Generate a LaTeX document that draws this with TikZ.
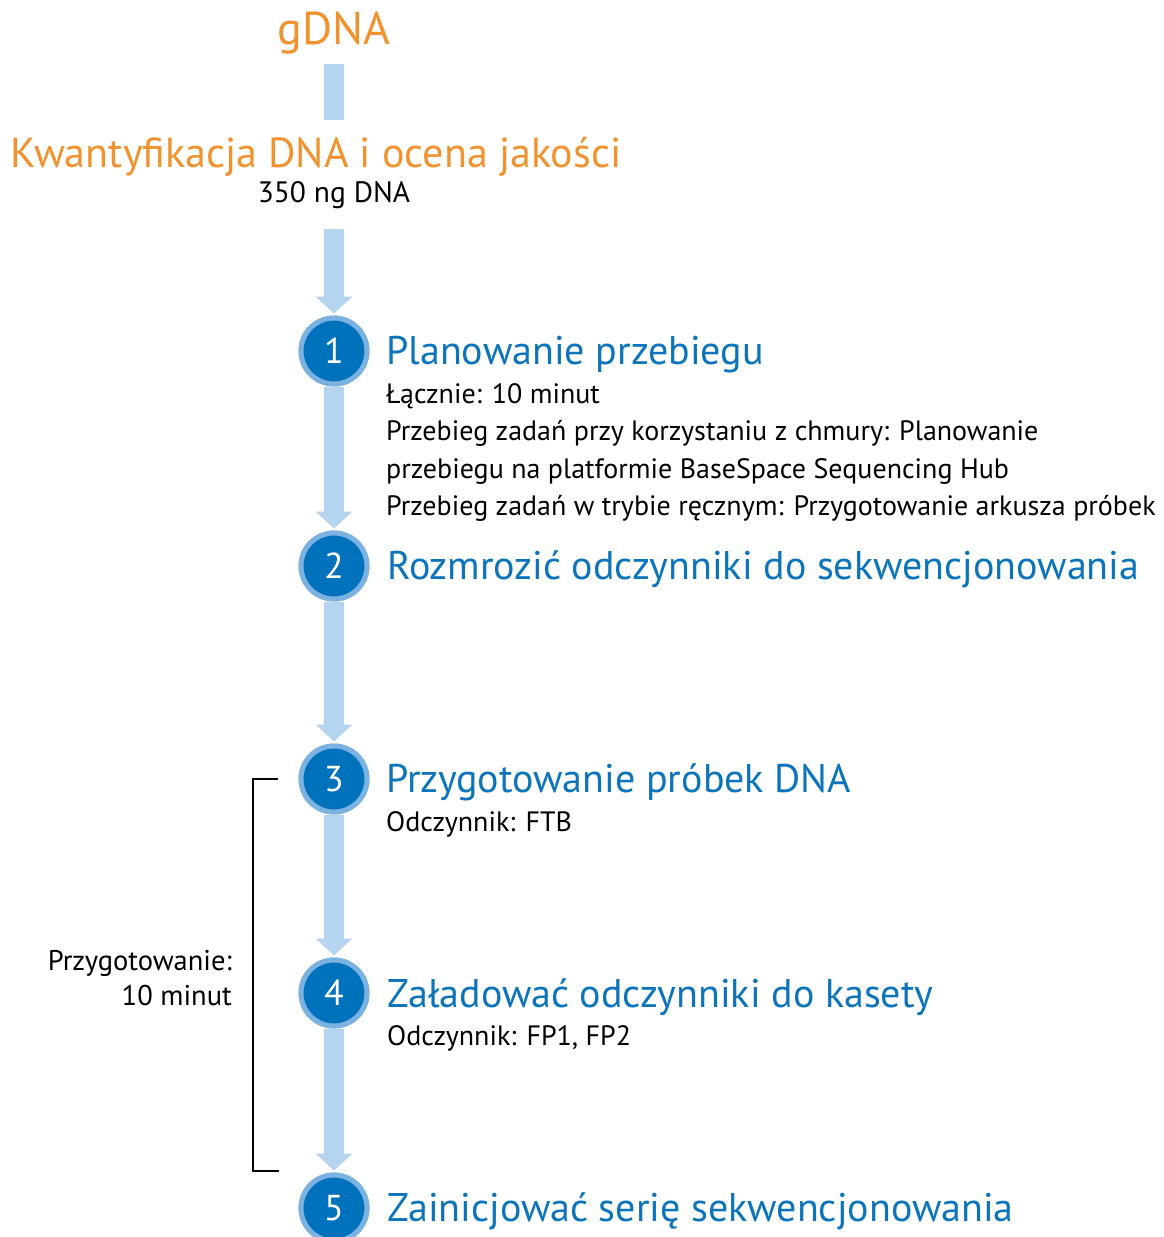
\documentclass[tikz,border=0pt]{standalone}
\usepackage{fontspec}
\setmainfont{PT Sans}
\usetikzlibrary{arrows.meta}
\definecolor{orng}{HTML}{F0932F}
\definecolor{ttlblue}{HTML}{0C74BA}
\definecolor{circdark}{HTML}{0071BB}
\definecolor{circring}{HTML}{7BB2E2}
\definecolor{flowblue}{HTML}{B5D4EF}
\tikzset{
  orangetxt/.style={inner sep=0pt, text=orng, font=\fontsize{42}{46}\selectfont},
  steptitle/.style={inner sep=0pt, anchor=mid west, text=ttlblue, font=\fontsize{40}{44}\selectfont},
  bodytxt/.style={inner sep=0pt, anchor=north west, align=left, text=black, font=\fontsize{28}{37.5}\selectfont},
  stepcirc/.style={circle, minimum size=66pt, inner sep=0pt, fill=circdark, draw=circring, line width=5pt, text=white, font=\fontsize{36}{38}\selectfont},
  flow/.style={draw=flowblue, line width=20pt, -{Triangle[width=36pt,length=17pt]}},
  flowbar/.style={draw=flowblue, line width=20pt},
  bracket/.style={draw=black, line width=1.5pt}
}
\begin{document}
\begin{tikzpicture}[x=1pt,y=-1pt]
\useasboundingbox (0,0) rectangle (1163,1237);
\clip (0,0) rectangle (1163,1237);
% top texts
\node[orangetxt, font=\fontsize{46}{50}\selectfont] (gdna) at (334,33) {gDNA};
\node[orangetxt] (kwant) at (316,157) {Kwantyfikacja DNA i ocena jakości};
\node[inner sep=0pt, font=\fontsize{29.5}{32}\selectfont] (ng) at (334,195) {350 ng DNA};
\coordinate (b0) at (334,64);
\coordinate (b1) at (334,120);
\coordinate (a0) at (334,229);
% circles
\node[stepcirc] (c1) at (334,351) {1};
\node[stepcirc] (c2) at (334,566) {2};
\node[stepcirc] (c3) at (334,779) {3};
\node[stepcirc] (c4) at (334,993) {4};
\node[stepcirc] (c5) at (334,1208) {5};
% arrows
\draw[flowbar] (b0) -- (b1);
\draw[flow, shorten >=2pt] (a0) -- (c1.north);
\draw[flow, shorten >=2pt] (c1.south) -- (c2.north);
\draw[flow, shorten >=2pt] (c2.south) -- (c3.north);
\draw[flow, shorten >=2pt] (c3.south) -- (c4.north);
\draw[flow, shorten >=2pt] (c4.south) -- (c5.north);
% circles on top of arrows
\node[stepcirc] at (c1) {1};
\node[stepcirc] at (c2) {2};
\node[stepcirc] at (c3) {3};
\node[stepcirc] at (c4) {4};
\node[stepcirc] at (c5) {5};
% titles and descriptions
\node[steptitle] (t1) at (386,362) {Planowanie przebiegu};
\node[bodytxt] (d1) at (386,383) {Łącznie: 10 minut\\Przebieg zadań przy korzystaniu z chmury: Planowanie\\przebiegu na platformie BaseSpace Sequencing Hub\\Przebieg zadań w trybie ręcznym: Przygotowanie arkusza próbek};
\node[steptitle] (t2) at (387,577) {Rozmrozić odczynniki do sekwencjonowania};
\node[steptitle] (t3) at (386,790) {Przygotowanie próbek DNA};
\node[bodytxt] (d3) at (386,811) {Odczynnik: FTB};
\node[steptitle] (t4) at (387,1005) {Załadować odczynniki do kasety};
\node[bodytxt] (d4) at (387,1025) {Odczynnik: FP1, FP2};
\node[steptitle] (t5) at (387,1219) {Zainicjować serię sekwencjonowania};
% bracket
\coordinate (k0) at (278,779);
\coordinate (k1) at (253,779);
\coordinate (k2) at (253,1171);
\coordinate (k3) at (279,1171);
\draw[bracket] (k0) -- (k1) -- (k2) -- (k3);
\node[inner sep=0pt, anchor=east, align=right, font=\fontsize{28.5}{35}\selectfont] (prep) at (232,978) {Przygotowanie:\\10 minut};
\end{tikzpicture}
\end{document}
